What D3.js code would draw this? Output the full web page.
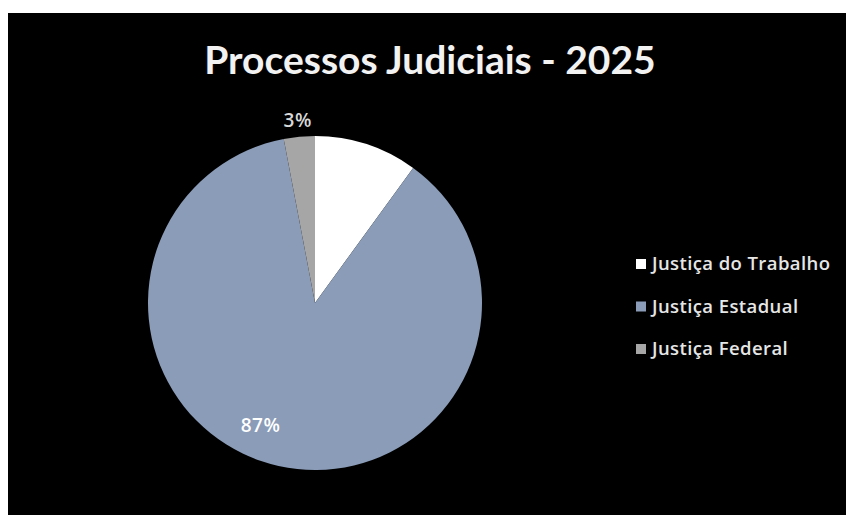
<!DOCTYPE html>
<html>
<head>
<meta charset="utf-8">
<script src="https://cdn.jsdelivr.net/npm/d3@7"></script>
<style>
  html, body { margin: 0; padding: 0; background: #ffffff; }
  svg { display: block; }
</style>
</head>
<body>
<svg id="chart" width="846" height="515"></svg>
<script>
// Processos judiciais por ramo da Justiça (percentual)
const categories = ["Justiça do Trabalho", "Justiça Estadual", "Justiça Federal"];
const values = [10, 87, 3];
const colors = ["#ffffff", "#8a9cb8", "#a6a6a6"];
const showLabel = [false, true, true];
const title = "Processos Judiciais - 2025";

const svg = d3.select("#chart");
const W = 846, H = 515;

// black chart area framed by a white margin on the top and left
svg.append("rect").attr("x", 8).attr("y", 13).attr("width", W - 8).attr("height", H - 13)
  .attr("fill", "#000000");

svg.append("text")
  .attr("x", 430).attr("y", 74)
  .attr("text-anchor", "middle")
  .attr("font-family", "Lato, 'Open Sans', sans-serif")
  .attr("font-weight", "bold")
  .attr("font-size", 39)
  .attr("fill", "#f2f2f2")
  .text(title);

const cx = 315, cy = 303, r = 167;
const data = categories.map((c, i) => ({ cat: c, value: values[i], color: colors[i], label: showLabel[i] }));

const pie = d3.pie().sort(null).value(d => d.value);
const arcs = pie(data);
const arc = d3.arc().innerRadius(0).outerRadius(r);

const g = svg.append("g").attr("transform", `translate(${cx},${cy})`);
g.selectAll("path").data(arcs).join("path")
  .attr("d", arc)
  .attr("fill", d => d.data.color);

const total = d3.sum(values);
const fmt = v => Math.round(v / total * 100) + "%";

// large slices get their label inside, small ones just outside the rim
g.selectAll("text.lbl").data(arcs.filter(d => d.data.label)).join("text")
  .attr("class", "lbl")
  .attr("transform", d => {
    const small = (d.endAngle - d.startAngle) < 0.5;
    const a = (d.startAngle + d.endAngle) / 2 + (small ? 0 : 0.2);
    const rr = small ? r * 1.1 : r * 0.8;
    return `translate(${Math.sin(a) * rr},${-Math.cos(a) * rr})`;
  })
  .attr("text-anchor", "middle")
  .attr("dy", "0.35em")
  .attr("font-family", "'Open Sans', sans-serif")
  .attr("font-weight", 600)
  .attr("font-size", 19)
  .attr("letter-spacing", 0.5)
  .attr("fill", d => (d.endAngle - d.startAngle) < 0.5 ? "#d9d9d9" : "#ffffff")
  .text(d => fmt(d.data.value));

// legend
const legend = svg.append("g").attr("transform", "translate(636,264)");
const item = legend.selectAll("g").data(data).join("g")
  .attr("transform", (d, i) => `translate(0,${i * 42.5})`);
item.append("rect")
  .attr("x", 0).attr("y", -5).attr("width", 10).attr("height", 10)
  .attr("fill", d => d.color);
item.append("text")
  .attr("x", 16).attr("y", 0)
  .attr("dy", "0.35em")
  .attr("font-family", "'Open Sans', sans-serif")
  .attr("font-weight", 600)
  .attr("font-size", 18.5)
  .attr("letter-spacing", 0.4)
  .attr("fill", "#e6e6e6")
  .text(d => d.cat);
</script>
</body>
</html>
